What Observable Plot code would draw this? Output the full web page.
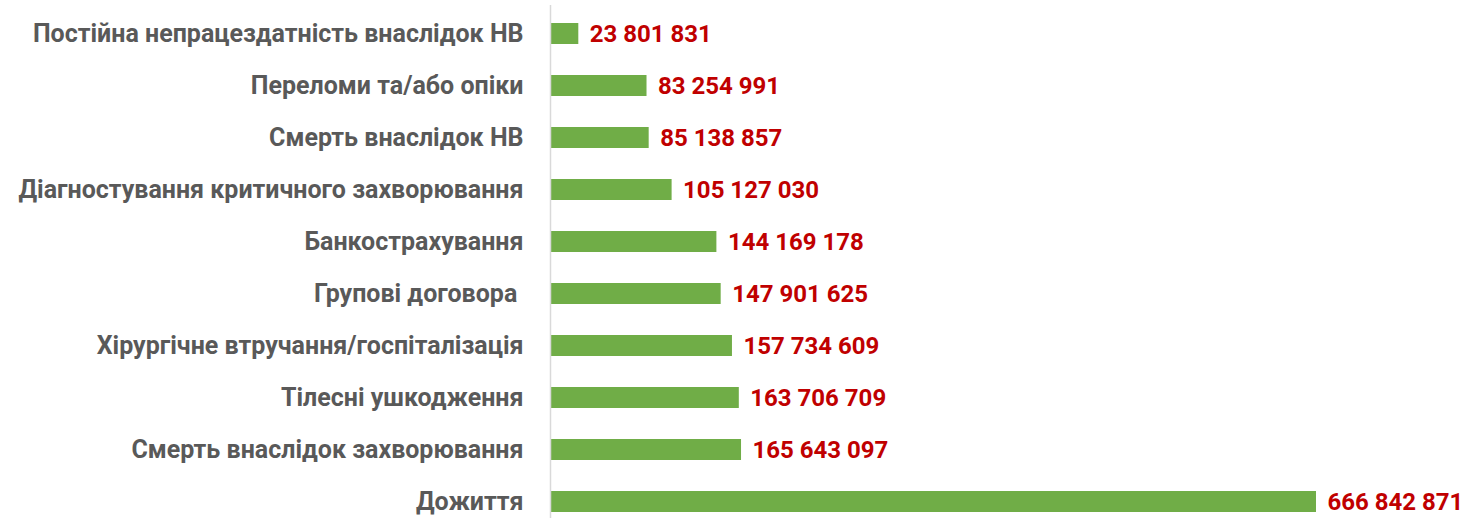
<!DOCTYPE html>
<html>
<head>
<meta charset="utf-8">
<script src="https://cdn.jsdelivr.net/npm/d3@7"></script>
<script src="https://cdn.jsdelivr.net/npm/@observablehq/plot@0.6"></script>
<style>
  html, body { margin: 0; padding: 0; background: #fff; }
  #chart svg { display: block; overflow: visible; }
  #chart text { white-space: pre; }
</style>
</head>
<body>
<div id="chart"></div>
<script>
const categories = [
  "Постійна непрацездатність внаслідок НВ",
  "Переломи та/або опіки",
  "Смерть внаслідок НВ",
  "Діагностування критичного захворювання",
  "Банкострахування",
  "Групові договора ",
  "Хірургічне втручання/госпіталізація",
  "Тілесні ушкодження",
  "Смерть внаслідок захворювання",
  "Дожиття"
];
const values = [
  23801831,
  83254991,
  85138857,
  105127030,
  144169178,
  147901625,
  157734609,
  163706709,
  165643097,
  666842871
];
const valueLabels = [
  "23 801 831",
  "83 254 991",
  "85 138 857",
  "105 127 030",
  "144 169 178",
  "147 901 625",
  "157 734 609",
  "163 706 709",
  "165 643 097",
  "666 842 871"
];

const data = categories.map((c, i) => ({category: c, value: values[i], label: valueLabels[i]}));

const FONT = "Roboto, 'Noto Sans', sans-serif";

const chart = Plot.plot({
  width: 1479,
  height: 518,
  marginLeft: 551,
  marginRight: 163,
  marginTop: 5,
  marginBottom: 0,
  style: {fontFamily: FONT, background: "#fff"},
  x: {domain: [0, d3.max(values)], axis: null},
  y: {
    domain: categories,
    range: [10, 525.5],
    paddingInner: 0.6,
    paddingOuter: 0.2,
    label: null
  },
  marks: [
    Plot.barX(data, {x: "value", y: "category", fill: "#70AD47"}),
    Plot.ruleX([0], {stroke: "#d9d9d9", strokeWidth: 1.5, dx: -1}),
    Plot.axisY({
      tickSize: 0,
      tickPadding: 28,
      fontSize: 25,
      fontWeight: "bold",
      fill: "#595959",
      label: null
    }),
    Plot.text(data, {
      x: "value",
      y: "category",
      text: "label",
      textAnchor: "start",
      dx: 11,
      fontSize: 24,
      fontWeight: "bold",
      fill: "#C00000"
    })
  ]
});
document.getElementById("chart").appendChild(chart);
</script>
</body>
</html>
